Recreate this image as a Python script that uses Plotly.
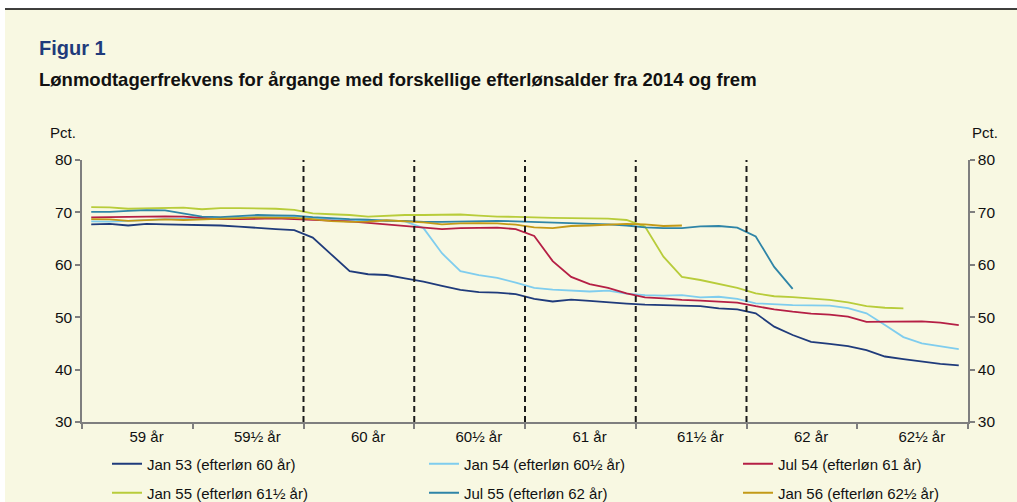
import numpy as np
import plotly.graph_objects as go

# ---------------- data ----------------
age_labels = ["59 år", "59½ år", "60 år", "60½ år", "61 år", "61½ år", "62 år", "62½ år"]
months_per_age = 6
n_months = len(age_labels) * months_per_age

series_names = [
    "Jan 53 (efterløn 60 år)",
    "Jan 54 (efterløn 60½ år)",
    "Jul 54 (efterløn 61 år)",
    "Jan 55 (efterløn 61½ år)",
    "Jul 55 (efterløn 62 år)",
    "Jan 56 (efterløn 62½ år)",
]

jan53 = [67.7, 67.8, 67.5, 67.8, 67.7, 67.65, 67.6, 67.5, 67.3, 67.0, 66.8, 66.6,
         65.2, 62.0, 58.8, 58.2, 58.05, 57.4, 56.8, 56.0, 55.2, 54.8, 54.7, 54.4,
         53.5, 53.0, 53.35, 53.1, 52.8, 52.6, 52.4, 52.3, 52.25, 52.1, 51.7, 51.5,
         50.75, 48.2, 46.6, 45.3, 44.9, 44.5, 43.7, 42.5, 42.0, 41.5, 41.1, 40.8]

jan54 = [68.3, 68.25, 68.4, 68.6, 68.7, 68.75, 68.85, 68.95, 69.1, 69.1, 69.3, 69.3,
         68.95, 68.7, 68.5, 68.5, 68.5, 68.3, 67.0, 62.2, 58.8, 58.05, 57.5, 56.6,
         55.6, 55.25, 55.07, 54.9, 55.07, 54.5, 54.2, 54.1, 54.2, 53.8, 53.9, 53.5,
         52.65, 52.45, 52.3, 52.25, 52.2, 51.75, 50.75, 48.5, 46.2, 45.0, 44.4, 43.9]

jul54 = [69.05, 69.1, 69.25, 69.3, 69.25, 69.2, 68.95, 68.7, 68.7, 68.8, 68.85, 68.7,
         68.6, 68.4, 68.3, 68.0, 67.7, 67.3, 67.0, 66.8, 67.0, 67.1, 67.1, 66.8,
         65.5, 60.7, 57.7, 56.3, 55.6, 54.55, 53.8, 53.6, 53.3, 53.15, 52.95, 52.8,
         52.1, 51.5, 51.05, 50.7, 50.5, 50.1, 49.1, 49.1, 49.2, 49.2, 48.95, 48.5]

jan55 = [71.0, 70.95, 70.7, 70.8, 70.9, 70.9, 70.6, 70.8, 70.8, 70.8, 70.7, 70.5,
         69.8, 69.65, 69.5, 69.2, 69.35, 69.5, 69.5, 69.5, 69.6, 69.4, 69.2, 69.15,
         69.0, 68.95, 68.9, 68.85, 68.8, 68.55, 67.3, 61.55, 57.7, 57.1, 56.3, 55.6,
         54.55, 54.0, 53.85, 53.6, 53.3, 52.85, 52.1, 51.8, 51.7, None, None, None]

jul55 = [70.1, 70.1, 70.3, 70.45, 70.4, 69.8, 69.2, 69.1, 69.3, 69.5, 69.45, 69.4,
         69.1, 68.85, 68.7, 68.6, 68.4, 68.4, 68.2, 68.2, 68.25, 68.4, 68.4, 68.3,
         68.2, 68.1, 68.0, 67.9, 67.7, 67.5, 67.15, 67.0, 67.0, 67.35, 67.4, 67.1,
         65.4, 59.6, 55.4, None, None, None, None, None, None, None, None, None]

jan56 = [68.7, 68.65, 68.4, 68.55, 68.65, 68.55, 68.65, 68.7, 68.9, 69.05, 68.95, 68.95,
         68.7, 68.35, 68.2, 68.25, 68.5, 68.35, 68.1, 67.7, 67.9, 67.95, 67.9, 67.65,
         67.15, 67.0, 67.4, 67.5, 67.6, 67.8, 67.7, 67.4, 67.5, None, None, None,
         None, None, None, None, None, None, None, None, None, None, None, None]

series_values = [jan53, jan54, jul54, jan55, jul55, jan56]
series_colors = ["#1f3b7b", "#7fcdee", "#b51f45", "#b8cc3a", "#2f85a7", "#c39a17"]

# retirement-age boundaries (index of age label where dashed line sits)
retirement_age_idx = [2, 3, 4, 5, 6]

title_text = "Figur 1"
subtitle_text = "Lønmodtagerfrekvens for årgange med forskellige efterlønsalder fra 2014 og frem"
y_unit = "Pct."

# ---------------- layout geometry ----------------
W, H = 1017, 502
L, R, T, B = 82, 49, 160, 80
pw, ph = W - L - R, H - T - B
bg = "#f8f8e2"
font_family = "Liberation Sans, Arial, sans-serif"


def px_to_paper_x(px):
    return (px - L) / pw


def px_to_paper_y(py):
    return (H - B - py) / ph


x_pos = np.arange(n_months) + 0.5

fig = go.Figure()
legend_keys = ["legend", "legend2", "legend3", "legend4", "legend5", "legend6"]
for name, vals, col, lk in zip(series_names, series_values, series_colors, legend_keys):
    fig.add_trace(go.Scatter(
        x=x_pos, y=vals, mode="lines", name=name,
        line=dict(color=col, width=1.8), legend=lk, connectgaps=False,
        hoverinfo="skip",
    ))

# dummy for right axis
fig.add_trace(go.Scatter(x=[None], y=[None], yaxis="y2", showlegend=False, hoverinfo="skip"))

# legends positions (3 columns x 2 rows)
col_px = [107, 424, 738]
row_px = [464, 493]
legend_layout = {}
for i, lk in enumerate(legend_keys):
    r, c = divmod(i, 3)
    legend_layout[lk] = dict(
        x=px_to_paper_x(col_px[c]), y=px_to_paper_y(row_px[r]),
        xanchor="left", yanchor="middle", bgcolor="rgba(0,0,0,0)",
        borderwidth=0, font=dict(size=15, color="#111", family=font_family),
    )

shapes = []
for idx in retirement_age_idx:
    xv = idx * months_per_age
    shapes.append(dict(type="line", xref="x", yref="paper", x0=xv, x1=xv, y0=0, y1=1,
                       line=dict(color="#1a1a1a", width=2, dash="6px,4px")))
# white strip above top rule, top rule
shapes.append(dict(type="rect", xref="paper", yref="paper",
                   x0=px_to_paper_x(0), x1=px_to_paper_x(W), y0=px_to_paper_y(9), y1=px_to_paper_y(0),
                   fillcolor="white", line=dict(width=0), layer="below"))
shapes.append(dict(type="rect", xref="paper", yref="paper",
                   x0=px_to_paper_x(0), x1=px_to_paper_x(5), y0=px_to_paper_y(H), y1=px_to_paper_y(0),
                   fillcolor="white", line=dict(width=0), layer="below"))
shapes.append(dict(type="line", xref="paper", yref="paper",
                   x0=px_to_paper_x(5), x1=px_to_paper_x(W), y0=px_to_paper_y(9), y1=px_to_paper_y(9),
                   line=dict(color="black", width=1.5)))

annotations = [
    dict(text=f"<b>{title_text}</b>", xref="paper", yref="paper", x=px_to_paper_x(37),
         y=px_to_paper_y(48), xanchor="left", yanchor="middle", showarrow=False,
         font=dict(size=20, color="#1f3b7b", family=font_family)),
    dict(text=f"<b>{subtitle_text}</b>", xref="paper", yref="paper", x=px_to_paper_x(37),
         y=px_to_paper_y(80), xanchor="left", yanchor="middle", showarrow=False,
         font=dict(size=18.5, color="#111", family=font_family)),
    dict(text=y_unit, xref="paper", yref="paper", x=px_to_paper_x(63),
         y=px_to_paper_y(132), xanchor="center", yanchor="middle", showarrow=False,
         font=dict(size=15, color="#111", family=font_family)),
    dict(text=y_unit, xref="paper", yref="paper", x=px_to_paper_x(985),
         y=px_to_paper_y(132), xanchor="center", yanchor="middle", showarrow=False,
         font=dict(size=15, color="#111", family=font_family)),
]

axis_line = "#7f7f7f"
yax_common = dict(range=[30, 80], dtick=10, tick0=30, showgrid=False, zeroline=False,
                  showline=True, linecolor=axis_line, linewidth=1.5, ticks="outside",
                  ticklen=5, tickcolor=axis_line, tickwidth=1.5,
                  tickfont=dict(size=15.5, color="#111", family=font_family), fixedrange=True)

fig.update_layout(
    width=W, height=H, autosize=False,
    margin=dict(l=L, r=R, t=T, b=B, autoexpand=False),
    paper_bgcolor=bg, plot_bgcolor=bg,
    font=dict(family=font_family, size=14, color="#111"),
    xaxis=dict(range=[0, n_months], showgrid=False, zeroline=False, showline=True,
               linecolor=axis_line, linewidth=1.5,
               tickvals=[i * months_per_age + 3.5 for i in range(len(age_labels))],
               ticktext=age_labels, ticks="",
               tickfont=dict(size=15, color="#111", family=font_family),
               minor=dict(tick0=0, dtick=months_per_age, ticks="outside", ticklen=5,
                          tickcolor=axis_line, tickwidth=1.5, showgrid=False),
               fixedrange=True),
    yaxis=dict(side="left", **yax_common),
    yaxis2=dict(side="right", overlaying="y", **yax_common),
    shapes=shapes, annotations=annotations,
    hovermode=False,
    **legend_layout,
)

fig.write_html("out.html", config={"displayModeBar": False},
               post_script="document.body.style.margin='0';document.body.style.overflow='hidden';")
